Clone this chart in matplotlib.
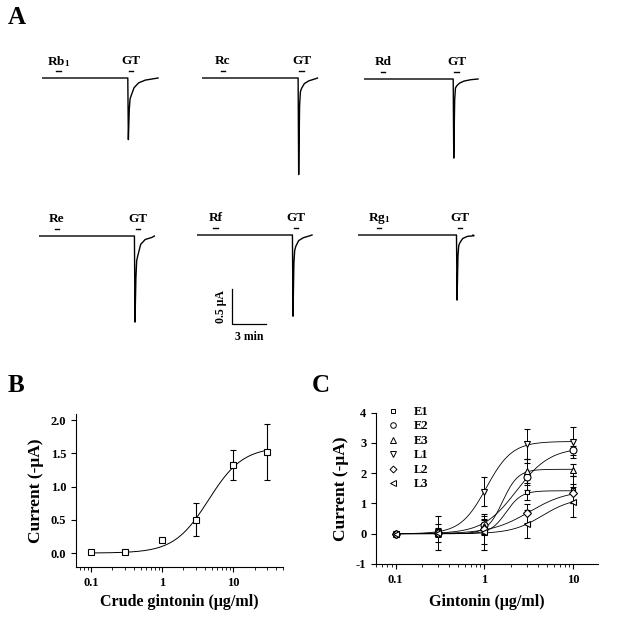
import numpy as np
import matplotlib
matplotlib.use("Agg")
import matplotlib.pyplot as plt

plt.rcParams['font.family'] = ['Liberation Serif', 'DejaVu Serif']
plt.rcParams['font.weight'] = 'bold'
plt.rcParams['axes.labelweight'] = 'bold'
plt.rcParams['axes.unicode_minus'] = False
plt.rcParams['mathtext.fontset'] = 'custom'
plt.rcParams['mathtext.rm'] = 'Liberation Serif:bold'
plt.rcParams['mathtext.it'] = 'Liberation Serif:bold'
plt.rcParams['mathtext.default'] = 'regular'

# ---- Panel A: current traces (min, -uA) ----
trace_names = ['Rb$_1$', 'Rc', 'Rd', 'Re', 'Rf', 'Rg$_1$']
drug_time = [1.46, 1.85, 1.68, 1.59, 1.63, 1.85]
gt_onset = [7.62, 8.53, 7.92, 8.47, 8.47, 8.74]
trace_end = [10.24, 10.19, 10.06, 10.18, 10.15, 10.15]
dt_after = [-0.05, 0.0, 0.08, 0.15, 0.25, 0.5, 0.9, 1.5]
resp1 = [0, -0.88, -0.45, -0.30, -0.25, -0.14, -0.07, -0.03]
resp2 = [0, -1.38, -0.40, -0.20, -0.15, -0.08, -0.04, -0.01]
resp3 = [0, -1.13, -0.30, -0.13, -0.10, -0.06, -0.03, -0.01]
resp4 = [0, -1.23, -0.60, -0.35, -0.28, -0.12, -0.05, -0.02]
resp5 = [0, -1.16, -0.40, -0.22, -0.16, -0.08, -0.04, -0.01]
resp6 = [0, -0.93, -0.30, -0.15, -0.11, -0.05, -0.02, -0.01]
responses = [resp1, resp2, resp3, resp4, resp5, resp6]

# ---- Panel B ----
crude_conc = [0.1, 0.3, 1, 3, 10, 30]
crude_cur = [0.01, 0.02, 0.19, 0.50, 1.33, 1.52]
crude_err = [0.02, 0.03, 0.0, 0.25, 0.23, 0.42]
crude_fit = [1.6, 4.5, 1.8]  # Imax, EC50, n

# ---- Panel C ----
conc = [0.1, 0.3, 1, 3, 10]
series = ['E1', 'E2', 'E3', 'L1', 'L2', 'L3']
markers = ['s', 'o', '^', 'v', 'D', '<']
msizes = [3.5, 5, 5, 5, 4.5, 5]
cur_E1 = [0.0, 0.02, 0.05, 1.37, 1.45]
cur_E2 = [0.0, 0.03, 0.30, 1.88, 2.76]
cur_E3 = [0.0, 0.03, 0.25, 2.07, 2.12]
cur_L1 = [0.0, 0.05, 1.39, 2.96, 3.02]
cur_L2 = [0.0, 0.02, 0.15, 0.67, 1.33]
cur_L3 = [0.0, 0.02, 0.05, 0.32, 1.06]
err_E1 = [0.02, 0.55, 0.40, 0.25, 0.45]
err_E2 = [0.02, 0.10, 0.30, 0.45, 0.15]
err_E3 = [0.02, 0.10, 0.25, 0.40, 0.20]
err_L1 = [0.02, 0.15, 0.47, 0.50, 0.52]
err_L2 = [0.02, 0.10, 0.20, 0.30, 0.30]
err_L3 = [0.02, 0.30, 0.60, 0.45, 0.50]
fit_E1 = [1.42, 1.75, 5]
fit_E2 = [2.85, 2.3, 2.3]
fit_E3 = [2.13, 1.6, 5]
fit_L1 = [3.05, 1.05, 3]
fit_L2 = [1.45, 3.2, 2]
fit_L3 = [1.20, 4.5, 2.5]
currents = [cur_E1, cur_E2, cur_E3, cur_L1, cur_L2, cur_L3]
errors = [err_E1, err_E2, err_E3, err_L1, err_L2, err_L3]
fits = [fit_E1, fit_E2, fit_E3, fit_L1, fit_L2, fit_L3]

W, H = 618, 627
fig = plt.figure(figsize=(W / 100, H / 100), dpi=100)


def px_axes(x, y, w, h):
    return fig.add_axes([x / W, 1 - (y + h) / H, w / W, h / H])


def hill(x, p):
    return p[0] * x ** p[2] / (x ** p[2] + p[1] ** p[2])


PX_MIN = 34 / 3.0   # pixels per minute
PX_UA = 35 / 0.5    # pixels per uA

# trace origins (left of baseline, baseline y) in pixels
origins = [(42, 78), (202, 78), (364, 79), (39, 236), (197, 235), (358, 235)]
for i in range(6):
    x0, y0 = origins[i]
    ax = px_axes(x0, y0 - 30, 125, 130)
    ax.set_xlim(0, 125 / PX_MIN)
    ax.set_ylim(-100 / PX_UA, 30 / PX_UA)
    ax.axis('off')
    t = [0] + [gt_onset[i] + d for d in dt_after] + [trace_end[i]]
    y = [0] + responses[i] + [0]
    ax.plot(t, y, color='black', lw=1.0)
    ax.plot([drug_time[i] - 0.2, drug_time[i] + 0.2], [0.1, 0.1], color='black', lw=1)
    ax.plot([gt_onset[i] + 0.05, gt_onset[i] + 0.45], [0.1, 0.1], color='black', lw=1)
    ax.text(drug_time[i], 0.24, trace_names[i], ha='center', va='center', fontsize=9.5)
    ax.text(gt_onset[i] + 0.25, 0.24, 'GT', ha='center', va='center', fontsize=9.5)

# scale bar
sb = px_axes(232, 289, 34, 35)
sb.set_xlim(0, 3)
sb.set_ylim(0, 0.5)
sb.axis('off')
sb.plot([0, 0, 3], [0.5, 0, 0], color='black', lw=0.9, clip_on=False)
sb.text(-0.45, 0.25, '0.5 \u03bcA', rotation=90, ha='right', va='center', fontsize=8.5)
sb.text(1.5, -0.1, '3 min', ha='center', va='top', fontsize=8.5)

fig.text(8 / W, 1 - 18 / H, 'A', fontsize=18, fontweight='bold', va='center')
fig.text(8 / W, 1 - 386 / H, 'B', fontsize=18, fontweight='bold', va='center')
fig.text(312 / W, 1 - 386 / H, 'C', fontsize=18, fontweight='bold', va='center')


def style_axes(ax):
    for s in ['top', 'right']:
        ax.spines[s].set_visible(False)
    for s in ['left', 'bottom']:
        ax.spines[s].set_linewidth(0.8)
    ax.tick_params(which='major', direction='out', length=3.5, width=0.8, labelsize=9)
    ax.tick_params(which='minor', direction='out', length=2.5, width=0.6)
    ax.tick_params(axis='y', which='minor', left=False)


# ---- Panel B ----
axb = px_axes(76, 414, 207, 153)
axb.set_xscale('log')
xf = np.logspace(-1, np.log10(30), 200)
axb.plot(xf, hill(xf, crude_fit), color='black', lw=0.7)
axb.errorbar(crude_conc, crude_cur, yerr=crude_err, fmt='s', mfc='white', mec='black',
             ms=4.5, mew=0.8, ecolor='black', elinewidth=0.8, capsize=2.5, capthick=0.8)
axb.set_xlim(0.062, 50)
axb.set_ylim(-0.21, 2.095)
axb.set_yticks([0, 0.5, 1.0, 1.5, 2.0])
axb.set_yticklabels(['0.0', '0.5', '1.0', '1.5', '2.0'])
axb.set_xticks([0.1, 1, 10])
axb.set_xticklabels(['0.1', '1', '10'])
style_axes(axb)
axb.set_ylabel('Current (-\u03bcA)', fontsize=12.5, labelpad=5)
axb.set_xlabel('Crude gintonin (\u03bcg/ml)', fontsize=11.5, labelpad=4)

# ---- Panel C ----
axc = px_axes(376, 412.7, 222, 151.3)
axc.set_xscale('log')
xf = np.logspace(-1, 1, 200)
for i in range(6):
    axc.plot(xf, hill(xf, fits[i]), color='black', lw=0.6)
    axc.errorbar(conc, currents[i], yerr=errors[i], fmt=markers[i], mfc='white',
                 mec='black', ms=msizes[i], mew=0.8, ecolor='black', elinewidth=0.7,
                 capsize=2.5, capthick=0.7)
axc.set_xlim(0.06, 19)
axc.set_ylim(-1, 4)
axc.set_yticks([-1, 0, 1, 2, 3, 4])
axc.set_xticks([0.1, 1, 10])
axc.set_xticklabels(['0.1', '1', '10'])
style_axes(axc)
axc.set_ylabel('Current (-\u03bcA)', fontsize=12.5, labelpad=5)
axc.set_xlabel('Gintonin (\u03bcg/ml)', fontsize=11.5, labelpad=6)
leg_handles = [plt.Line2D([], [], ls='none', marker=markers[i], mfc='white', mec='black',
                          ms=msizes[i] - 1, mew=0.7) for i in range(6)]
axc.legend(leg_handles, series, loc='upper left', bbox_to_anchor=(0.05, 1.045),
           frameon=False, fontsize=9, handlelength=1, handletextpad=1.1,
           labelspacing=0.2, borderpad=0, borderaxespad=0)

fig.savefig('out.png', dpi=100)
